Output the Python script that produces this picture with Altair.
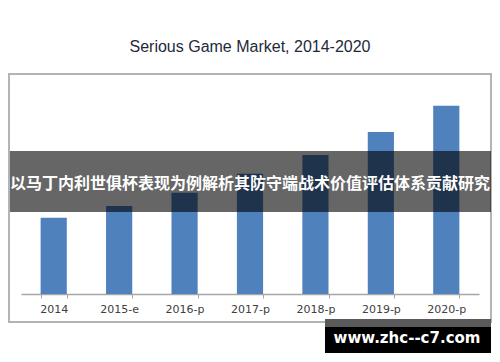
import altair as alt
import pandas as pd

# Data (market size, arbitrary units ~ $B)
categories = ["2014", "2015-e", "2016-p", "2017-p", "2018-p", "2019-p", "2020-p"]
values = [2.25, 2.6, 2.99, 3.55, 4.11, 4.79, 5.56]

title_text = "Serious Game Market, 2014-2020"
banner_text = "以马丁内利世俱杯表现为例解析其防守端战术价值评估体系贡献研究"
watermark_text = "www.zhc--c7.com"

df = pd.DataFrame({"year": categories, "value": values})
one = pd.DataFrame({"k": [0]})

W, H = 458, 220

bars = alt.Chart(df).mark_bar(color="#4f81bd").encode(
    x=alt.X(
        "year:N",
        sort=categories,
        title=None,
        scale=alt.Scale(paddingInner=0.6, paddingOuter=0.3),
        axis=alt.Axis(
            labelAngle=0,
            labelFont="DejaVu Sans",
            labelFontSize=11,
            labelColor="#404040",
            domainColor="#a6a6a6",
            domainWidth=1.5,
            tickColor="#a6a6a6",
            tickSize=4,
            tickBand="extent",
            labelPadding=5,
            grid=False,
        ),
    ),
    y=alt.Y("value:Q", axis=None, scale=alt.Scale(domain=[0, 6.5])),
)

frame = alt.Chart(one).mark_rect(fill=None, stroke="#b4b4b4", strokeWidth=2).encode(
    x=alt.value(-12), x2=alt.value(470), y=alt.value(0), y2=alt.value(248)
)

banner = alt.Chart(one).mark_rect(fill="black", opacity=0.6).encode(
    x=alt.value(-11), x2=alt.value(470), y=alt.value(77), y2=alt.value(138)
)

banner_label = alt.Chart(one).mark_text(
    font="Noto Sans CJK SC", fontWeight="bold", fontSize=16, color="white",
    align="center", baseline="middle",
).encode(x=alt.value(229), y=alt.value(110), text=alt.value(banner_text))

wm_box = alt.Chart(one).mark_rect(fill="black").encode(
    x=alt.value(304), x2=alt.value(470), y=alt.value(245), y2=alt.value(279)
)
wm_strip = alt.Chart(one).mark_rect(fill="#5a5a5a").encode(
    x=alt.value(304), x2=alt.value(470), y=alt.value(245), y2=alt.value(253)
)
wm_label = alt.Chart(one).mark_text(
    font="DejaVu Sans", fontWeight="bold", fontSize=15, color="white",
    align="center", baseline="middle",
).encode(x=alt.value(386), y=alt.value(264), text=alt.value(watermark_text))

chart = alt.layer(
    frame, bars, banner, banner_label, wm_box, wm_strip, wm_label
).properties(
    width=W,
    height=H,
    title=alt.TitleParams(
        title_text, font="Liberation Sans", fontSize=16, fontWeight="normal",
        color="#1e2a3a", anchor="middle", offset=18,
    ),
    autosize=alt.AutoSizeParams(type="none"),
    padding={"left": 13, "top": 66, "right": 13, "bottom": 60},
).configure_view(stroke=None)

chart.save("out.html", embed_options={"renderer": "svg", "actions": False})
